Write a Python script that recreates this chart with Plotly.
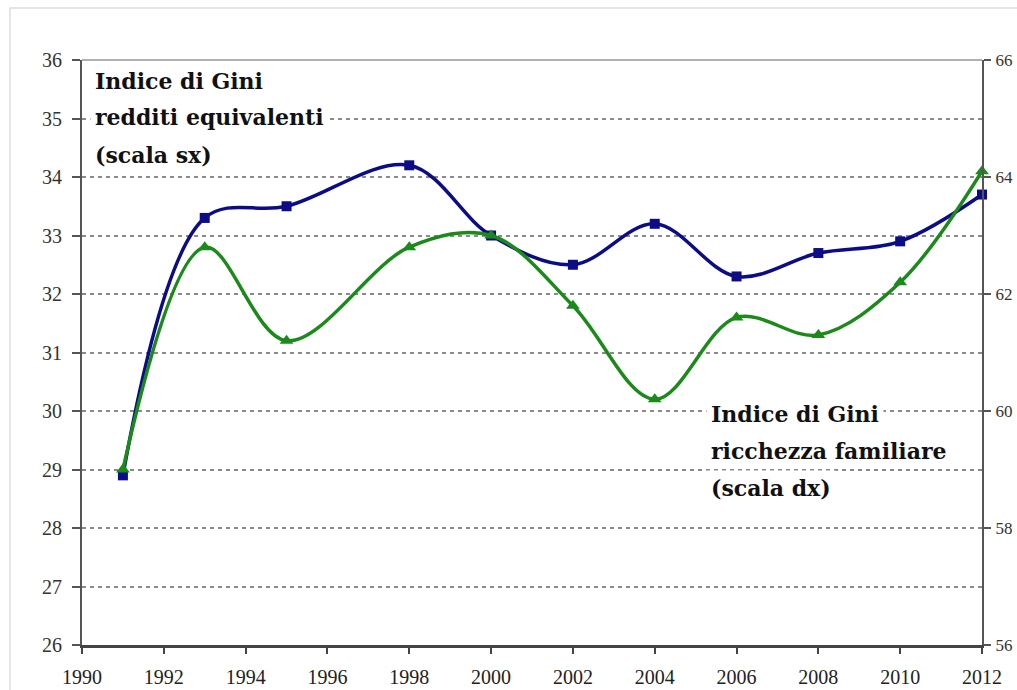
import plotly.graph_objects as go

years = [1991, 1993, 1995, 1998, 2000, 2002, 2004, 2006, 2008, 2010, 2012]
gini_redditi = [28.9, 33.3, 33.5, 34.2, 33.0, 32.5, 33.2, 32.3, 32.7, 32.9, 33.7]
gini_ricchezza = [59.0, 62.8, 61.2, 62.8, 63.0, 61.8, 60.2, 61.6, 61.3, 62.2, 64.1]

x_ticks = list(range(1990, 2013, 2))
left_ticks = list(range(26, 37))
right_ticks = list(range(56, 67, 2))

BLUE = "#0c0c86"
GREEN = "#1b8a1b"
FONT = "Liberation Serif, Times New Roman, serif"
LABEL_FONT = "DejaVu Serif, serif"

fig = go.Figure()
fig.add_trace(go.Scatter(
    x=years, y=gini_redditi, mode="lines+markers",
    line=dict(color=BLUE, width=3.5, shape="spline", smoothing=1.0),
    marker=dict(symbol="square", size=10, color=BLUE),
    showlegend=False, cliponaxis=False))
fig.add_trace(go.Scatter(
    x=years, y=gini_ricchezza, mode="lines+markers", yaxis="y2",
    line=dict(color=GREEN, width=3.5, shape="spline", smoothing=1.0),
    marker=dict(symbol="triangle-up", size=12, color=GREEN),
    showlegend=False, cliponaxis=False))

fig.update_layout(
    width=1017, height=690,
    margin=dict(l=82, r=35, t=60, b=45, autoexpand=False),
    paper_bgcolor="white", plot_bgcolor="white",
    font=dict(family=FONT, size=16, color="#333333"),
    xaxis=dict(range=[1990, 2012], tickvals=x_ticks, showgrid=False,
               showline=True, linecolor="#444444", linewidth=3,
               ticks="outside", ticklen=6, tickcolor="#444444", tickwidth=1.5,
               ticklabelstandoff=6, automargin=False,
               zeroline=False, tickfont=dict(family=FONT, size=20, color="#222222")),
    yaxis=dict(range=[26, 36], tickvals=left_ticks, showgrid=True,
               gridcolor="#8a8a8a", gridwidth=1.5, griddash="4px,4px",
               showline=True, linecolor="#555555", linewidth=2,
               ticks="outside", ticklen=8, tickcolor="#555555", tickwidth=1.5,
               ticklabelstandoff=6, automargin=False,
               zeroline=False, tickfont=dict(family=FONT, size=20, color="#333333")),
    yaxis2=dict(range=[56, 66], tickvals=right_ticks, overlaying="y", side="right",
                showgrid=False, showline=True, linecolor="#555555", linewidth=2,
                ticks="outside", ticklen=7, tickcolor="#555555", tickwidth=1.5,
                ticklabelstandoff=1, automargin=False,
                zeroline=False, tickfont=dict(family=FONT, size=17, color="#333333")),
)

# top border of plot area
fig.add_shape(type="line", xref="paper", yref="paper", x0=0, x1=1, y0=1, y1=1,
              line=dict(color="#b0b0b0", width=2))
# outer frame
fig.add_shape(type="rect", xref="paper", yref="paper",
              x0=-72/900, x1=1.2, y0=-0.2, y1=1 + 52/585,
              line=dict(color="#dddddd", width=1.5), layer="below")

def label(text, x, y):
    fig.add_annotation(text=f"<b>{text}</b>", x=x, y=y, xref="x", yref="y",
                       xanchor="left", yanchor="middle", showarrow=False,
                       font=dict(family=LABEL_FONT, size=22, color="#111111"),
                       bgcolor="white", borderpad=4)

label("Indice di Gini", 1990.2, 35.64)
label("redditi equivalenti", 1990.2, 35.02)
label("(scala sx)", 1990.2, 34.38)
label("Indice di Gini", 2005.25, 29.95)
label("ricchezza familiare", 2005.25, 29.32)
label("(scala dx)", 2005.25, 28.68)

fig.write_html(
    "out.html",
    config={"displayModeBar": False},
    post_script="document.body.style.margin='0';"
                "document.body.style.overflow='hidden';"
                "document.documentElement.style.overflow='hidden';",
)
